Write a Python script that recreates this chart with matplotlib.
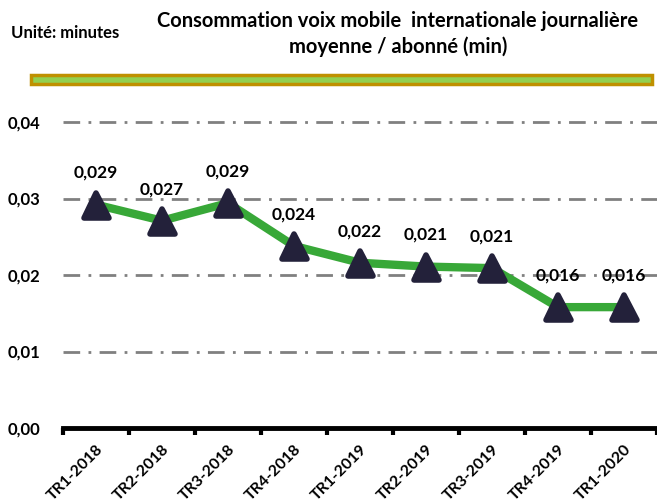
import matplotlib.pyplot as plt
from matplotlib.patches import Rectangle
from matplotlib.markers import MarkerStyle

categories = ['TR1-2018', 'TR2-2018', 'TR3-2018', 'TR4-2018', 'TR1-2019',
              'TR2-2019', 'TR3-2019', 'TR4-2019', 'TR1-2020']
values = [0.0292, 0.0271, 0.0294, 0.0238, 0.0216, 0.0211, 0.0209, 0.0158, 0.0158]
yticks = [0.00, 0.01, 0.02, 0.03, 0.04]

plt.rcParams['font.family'] = ['Lato', 'DejaVu Sans']

fig = plt.figure(figsize=(6.57, 5.03), dpi=100)
ax = fig.add_axes([63 / 657, 1 - 428 / 503, 1 - 63 / 657, (428 - 122) / 503])

x = list(range(len(categories)))
ax.plot(x, values, color='#38A838', lw=6, zorder=3, solid_capstyle='round')
tri = MarkerStyle('^', joinstyle='round')
ax.plot(x, values, ls='none', marker=tri, ms=18, mew=4, color='#23213A', zorder=4, clip_on=False)

for xi, v in zip(x, values):
    ax.annotate(f'{v:.3f}'.replace('.', ','), (xi, v), xytext=(0, 17), textcoords='offset points',
                ha='center', va='bottom', fontsize=12.5, fontweight='bold', color='black')

ax.set_xlim(-0.5, len(categories) - 0.5)
ax.set_ylim(0, 0.04)
ax.set_yticks(yticks)
ax.set_yticklabels([f'{t:.2f}'.replace('.', ',') for t in yticks], fontsize=12, fontweight='bold')
ax.tick_params(axis='y', length=0, pad=16)

ax.set_xticks([i - 0.5 for i in range(len(categories) + 1)], minor=False)
ax.set_xticklabels([])
ax.set_xticks(x, minor=True)
ax.set_xticklabels(categories, minor=True, rotation=45, ha='right', rotation_mode='anchor',
                   fontsize=11.5, fontweight='bold')
ax.tick_params(axis='x', which='major', direction='out', length=5, width=3, color='black')
ax.tick_params(axis='x', which='minor', length=0, pad=10)

for yt in yticks[1:]:
    ax.axhline(yt, color='#808080', lw=2, ls=(0, (6, 3, 1, 3)), zorder=1, clip_on=False)

for s in ['top', 'right', 'left']:
    ax.spines[s].set_visible(False)
ax.spines['bottom'].set_linewidth(3.5)
ax.spines['bottom'].set_color('black')

fig.text(0.016, 1 - 33 / 503, 'Unité: minutes', fontsize=12, fontweight='bold', va='center')
fig.text(398 / 657, 1 - 34 / 503, 'Consommation voix mobile  internationale journalière\nmoyenne / abonné (min)',
         fontsize=14.5, fontweight='bold', ha='center', va='center', linespacing=1.3)

fig.patches.append(Rectangle((31 / 657, 1 - 84 / 503), (652 - 31) / 657, 9 / 503,
                             transform=fig.transFigure, facecolor='#92D050',
                             edgecolor='#BF9000', lw=2.5))

fig.savefig('out.png', dpi=100)
